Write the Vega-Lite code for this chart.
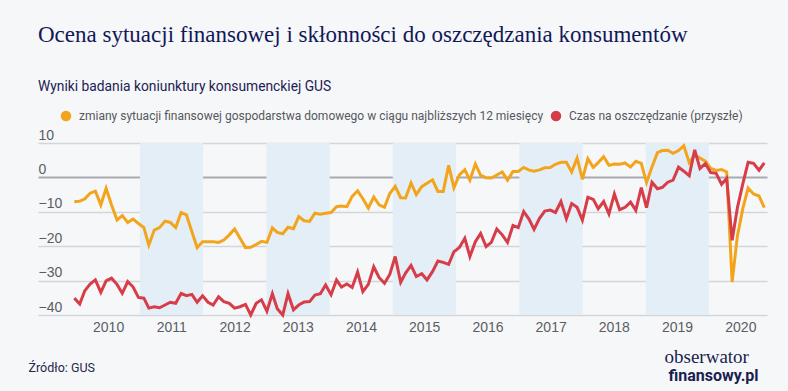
{
  "$schema": "https://vega.github.io/schema/vega-lite/v6.json",
  "width": 729,
  "height": 172,
  "autosize": {"type": "none"},
  "padding": {"left": 38, "top": 143, "right": 21, "bottom": 76},
  "background": "#f6f7f9",
  "title": {
    "text": "Ocena sytuacji finansowej i skłonności do oszczędzania konsumentów",
    "subtitle": "Wyniki badania koniunktury konsumenckiej GUS",
    "anchor": "start",
    "frame": "group",
    "font": "Liberation Serif",
    "fontSize": 23,
    "fontWeight": "normal",
    "color": "#121858",
    "subtitleFont": "Roboto",
    "subtitleFontSize": 13.8,
    "subtitleColor": "#1d2254",
    "subtitlePadding": 33,
    "offset": 16
  },
  "datasets": {
    "bands": [
      {"start": "2011-01-01", "end": "2012-01-01"},
      {"start": "2013-01-01", "end": "2014-01-01"},
      {"start": "2015-01-01", "end": "2016-01-01"},
      {"start": "2017-01-01", "end": "2018-01-01"},
      {"start": "2019-01-01", "end": "2020-01-01"}
    ],
    "series": [
      {"date": "2010-01-01", "f": -7.1, "c": -35.1},
      {"date": "2010-02-01", "f": -6.9, "c": -36.8},
      {"date": "2010-03-01", "f": -6.3, "c": -33.0},
      {"date": "2010-04-01", "f": -4.6, "c": -31.0},
      {"date": "2010-05-01", "f": -4.0, "c": -29.8},
      {"date": "2010-06-01", "f": -8.0, "c": -33.4},
      {"date": "2010-07-01", "f": -3.2, "c": -30.1},
      {"date": "2010-08-01", "f": -8.0, "c": -29.3},
      {"date": "2010-09-01", "f": -12.4, "c": -31.1},
      {"date": "2010-10-01", "f": -11.1, "c": -33.7},
      {"date": "2010-11-01", "f": -13.1, "c": -30.3},
      {"date": "2010-12-01", "f": -12.1, "c": -31.8},
      {"date": "2011-01-01", "f": -13.4, "c": -34.9},
      {"date": "2011-02-01", "f": -14.6, "c": -35.1},
      {"date": "2011-03-01", "f": -19.7, "c": -38.0},
      {"date": "2011-04-01", "f": -15.3, "c": -37.6},
      {"date": "2011-05-01", "f": -14.6, "c": -37.9},
      {"date": "2011-06-01", "f": -12.7, "c": -37.1},
      {"date": "2011-07-01", "f": -13.1, "c": -36.3},
      {"date": "2011-08-01", "f": -14.6, "c": -36.6},
      {"date": "2011-09-01", "f": -10.2, "c": -33.7},
      {"date": "2011-10-01", "f": -10.9, "c": -34.4},
      {"date": "2011-11-01", "f": -15.8, "c": -34.0},
      {"date": "2011-12-01", "f": -20.4, "c": -36.3},
      {"date": "2012-01-01", "f": -18.7, "c": -34.4},
      {"date": "2012-02-01", "f": -18.7, "c": -36.3},
      {"date": "2012-03-01", "f": -18.7, "c": -37.1},
      {"date": "2012-04-01", "f": -18.9, "c": -34.7},
      {"date": "2012-05-01", "f": -18.2, "c": -36.1},
      {"date": "2012-06-01", "f": -16.7, "c": -36.6},
      {"date": "2012-07-01", "f": -15.0, "c": -38.0},
      {"date": "2012-08-01", "f": -17.7, "c": -37.6},
      {"date": "2012-09-01", "f": -20.4, "c": -36.9},
      {"date": "2012-10-01", "f": -20.3, "c": -40.0},
      {"date": "2012-11-01", "f": -19.5, "c": -36.6},
      {"date": "2012-12-01", "f": -18.6, "c": -35.6},
      {"date": "2013-01-01", "f": -18.9, "c": -38.9},
      {"date": "2013-02-01", "f": -14.7, "c": -33.8},
      {"date": "2013-03-01", "f": -16.0, "c": -38.2},
      {"date": "2013-04-01", "f": -16.4, "c": -40.0},
      {"date": "2013-05-01", "f": -14.5, "c": -33.8},
      {"date": "2013-06-01", "f": -14.9, "c": -38.5},
      {"date": "2013-07-01", "f": -11.4, "c": -37.1},
      {"date": "2013-08-01", "f": -12.6, "c": -36.2},
      {"date": "2013-09-01", "f": -12.8, "c": -36.1},
      {"date": "2013-10-01", "f": -10.4, "c": -34.2},
      {"date": "2013-11-01", "f": -10.7, "c": -33.8},
      {"date": "2013-12-01", "f": -10.4, "c": -31.3},
      {"date": "2014-01-01", "f": -10.2, "c": -34.1},
      {"date": "2014-02-01", "f": -8.5, "c": -29.8},
      {"date": "2014-03-01", "f": -8.3, "c": -31.9},
      {"date": "2014-04-01", "f": -8.5, "c": -31.0},
      {"date": "2014-05-01", "f": -5.5, "c": -32.0},
      {"date": "2014-06-01", "f": -3.9, "c": -27.5},
      {"date": "2014-07-01", "f": -6.2, "c": -33.2},
      {"date": "2014-08-01", "f": -8.9, "c": -31.1},
      {"date": "2014-09-01", "f": -5.7, "c": -26.0},
      {"date": "2014-10-01", "f": -8.0, "c": -29.1},
      {"date": "2014-11-01", "f": -8.7, "c": -30.8},
      {"date": "2014-12-01", "f": -4.7, "c": -28.2},
      {"date": "2015-01-01", "f": -2.6, "c": -23.0},
      {"date": "2015-02-01", "f": -5.9, "c": -30.5},
      {"date": "2015-03-01", "f": -6.0, "c": -27.8},
      {"date": "2015-04-01", "f": -1.6, "c": -25.6},
      {"date": "2015-05-01", "f": -5.0, "c": -28.8},
      {"date": "2015-06-01", "f": -2.7, "c": -28.0},
      {"date": "2015-07-01", "f": -1.7, "c": -29.8},
      {"date": "2015-08-01", "f": -0.7, "c": -27.4},
      {"date": "2015-09-01", "f": -4.1, "c": -24.3},
      {"date": "2015-10-01", "f": -4.1, "c": -24.7},
      {"date": "2015-11-01", "f": 3.5, "c": -25.3},
      {"date": "2015-12-01", "f": -3.0, "c": -21.6},
      {"date": "2016-01-01", "f": 0.7, "c": -20.4},
      {"date": "2016-02-01", "f": 2.2, "c": -17.7},
      {"date": "2016-03-01", "f": -0.8, "c": -23.0},
      {"date": "2016-04-01", "f": 3.9, "c": -18.7},
      {"date": "2016-05-01", "f": 0.6, "c": -16.3},
      {"date": "2016-06-01", "f": -0.1, "c": -20.1},
      {"date": "2016-07-01", "f": -0.2, "c": -18.9},
      {"date": "2016-08-01", "f": 0.7, "c": -15.0},
      {"date": "2016-09-01", "f": 1.6, "c": -16.7},
      {"date": "2016-10-01", "f": -0.8, "c": -18.9},
      {"date": "2016-11-01", "f": 1.7, "c": -14.0},
      {"date": "2016-12-01", "f": 1.7, "c": -14.6},
      {"date": "2017-01-01", "f": 2.9, "c": -9.9},
      {"date": "2017-02-01", "f": 2.1, "c": -12.2},
      {"date": "2017-03-01", "f": 1.8, "c": -15.1},
      {"date": "2017-04-01", "f": 2.2, "c": -11.9},
      {"date": "2017-05-01", "f": 2.8, "c": -9.8},
      {"date": "2017-06-01", "f": 2.9, "c": -9.5},
      {"date": "2017-07-01", "f": 3.8, "c": -10.2},
      {"date": "2017-08-01", "f": 4.4, "c": -7.0},
      {"date": "2017-09-01", "f": 4.4, "c": -12.0},
      {"date": "2017-10-01", "f": 1.6, "c": -7.6},
      {"date": "2017-11-01", "f": 5.6, "c": -8.7},
      {"date": "2017-12-01", "f": -0.6, "c": -12.4},
      {"date": "2018-01-01", "f": 5.4, "c": -5.8},
      {"date": "2018-02-01", "f": 2.9, "c": -6.4},
      {"date": "2018-03-01", "f": 4.3, "c": -9.1},
      {"date": "2018-04-01", "f": 6.0, "c": -7.0},
      {"date": "2018-05-01", "f": 3.5, "c": -10.6},
      {"date": "2018-06-01", "f": 3.9, "c": -4.8},
      {"date": "2018-07-01", "f": 3.8, "c": -9.4},
      {"date": "2018-08-01", "f": 4.2, "c": -8.7},
      {"date": "2018-09-01", "f": 3.0, "c": -7.2},
      {"date": "2018-10-01", "f": 4.7, "c": -9.6},
      {"date": "2018-11-01", "f": 4.1, "c": -3.0},
      {"date": "2018-12-01", "f": -1.5, "c": -8.8},
      {"date": "2019-01-01", "f": 3.0, "c": -1.4},
      {"date": "2019-02-01", "f": 7.2, "c": -3.3},
      {"date": "2019-03-01", "f": 7.8, "c": -2.9},
      {"date": "2019-04-01", "f": 7.9, "c": -1.4},
      {"date": "2019-05-01", "f": 7.0, "c": -0.8},
      {"date": "2019-06-01", "f": 7.8, "c": 3.0},
      {"date": "2019-07-01", "f": 9.2, "c": 1.8},
      {"date": "2019-08-01", "f": 4.3, "c": 0.5},
      {"date": "2019-09-01", "f": 6.5, "c": 8.0},
      {"date": "2019-10-01", "f": 5.6, "c": 2.6},
      {"date": "2019-11-01", "f": 4.7, "c": 4.0},
      {"date": "2019-12-01", "f": 2.6, "c": 1.4},
      {"date": "2020-01-01", "f": 2.0, "c": 1.2},
      {"date": "2020-02-01", "f": 2.3, "c": -2.0},
      {"date": "2020-03-01", "f": 1.6, "c": -0.3},
      {"date": "2020-04-01", "f": -30.4, "c": -18.3},
      {"date": "2020-05-01", "f": -17.0, "c": -8.8},
      {"date": "2020-06-01", "f": -9.0, "c": -1.8},
      {"date": "2020-07-01", "f": -3.1, "c": 4.4},
      {"date": "2020-08-01", "f": -4.8, "c": 4.1},
      {"date": "2020-09-01", "f": -5.4, "c": 2.1},
      {"date": "2020-10-01", "f": -8.8, "c": 4.2}
    ]
  },
  "layer": [
    {
      "data": {"name": "bands"},
      "mark": {"type": "rect", "color": "#e4eef7"},
      "encoding": {
        "x": {
          "field": "start",
          "type": "temporal",
          "scale": {
            "type": "utc",
            "domain": [
              {"year": 2009, "month": 5, "date": 22, "utc": true},
              {"year": 2020, "month": 12, "date": 2, "utc": true}
            ]
          },
          "axis": {
            "orient": "bottom",
            "values": [
              {"year": 2010, "month": 7, "date": 1, "utc": true},
              {"year": 2011, "month": 7, "date": 1, "utc": true},
              {"year": 2012, "month": 7, "date": 1, "utc": true},
              {"year": 2013, "month": 7, "date": 1, "utc": true},
              {"year": 2014, "month": 7, "date": 1, "utc": true},
              {"year": 2015, "month": 7, "date": 1, "utc": true},
              {"year": 2016, "month": 7, "date": 1, "utc": true},
              {"year": 2017, "month": 7, "date": 1, "utc": true},
              {"year": 2018, "month": 7, "date": 1, "utc": true},
              {"year": 2019, "month": 7, "date": 1, "utc": true},
              {"year": 2020, "month": 7, "date": 1, "utc": true}
            ],
            "format": "%Y",
            "grid": false,
            "domain": false,
            "ticks": false,
            "tickSize": 0,
            "labelPadding": 5,
            "labelFlush": false,
            "labelOverlap": false,
            "labelBound": false,
            "labelFont": "Liberation Sans",
            "labelFontSize": 14,
            "labelColor": "#5b5d62",
            "title": "Źródło: GUS",
            "titleX": -10,
            "titleY": 56,
            "titleAlign": "left",
            "titleAnchor": "start",
            "titleBaseline": "alphabetic",
            "titleFont": "Roboto",
            "titleFontSize": 12.5,
            "titleFontWeight": "normal",
            "titleColor": "#23284a"
          }
        },
        "x2": {"field": "end"}
      }
    },
    {
      "data": {"name": "series"},
      "transform": [{"fold": ["f", "c"], "as": ["series", "value"]}],
      "mark": {"type": "line", "strokeWidth": 3},
      "encoding": {
        "x": {
          "field": "date",
          "type": "temporal",
          "scale": {
            "type": "utc",
            "domain": [
              {"year": 2009, "month": 6, "date": 8, "hours": 12, "utc": true},
              {"year": 2020, "month": 10, "date": 16, "hours": 10, "utc": true}
            ]
          },
          "axis": {
            "orient": "top",
            "labels": false,
            "ticks": false,
            "domain": false,
            "grid": false,
            "title": "finansowy.pl",
            "titleX": 630,
            "titleY": 237,
            "titleAlign": "left",
            "titleAnchor": "start",
            "titleBaseline": "alphabetic",
            "titleAngle": 0,
            "titleFont": "Roboto",
            "titleFontSize": 16,
            "titleFontWeight": "bold",
            "titleColor": "#1a1f4f"
          }
        },
        "y": {
          "field": "value",
          "type": "quantitative",
          "scale": {"domain": [-40, 10], "nice": false, "zero": false},
          "axis": {
            "orient": "left",
            "values": [-40, -30, -20, -10, 0, 10],
            "grid": true,
            "gridColor": {"condition": {"test": "datum.value === 0", "value": "#a7abb1"}, "value": "#d2d5da"},
            "gridWidth": {"condition": {"test": "datum.value === 0", "value": 2}, "value": 1.5},
            "domain": false,
            "ticks": false,
            "tickSize": 0,
            "labelAlign": "left",
            "labelBaseline": "bottom",
            "labelPadding": 0,
            "labelOffset": -1,
            "labelFont": "Liberation Sans",
            "labelFontSize": 14,
            "labelColor": "#5b5d62",
            "title": "obserwator",
            "titleX": 626,
            "titleY": 219,
            "titleAngle": 0,
            "titleAlign": "left",
            "titleAnchor": "start",
            "titleBaseline": "alphabetic",
            "titleFont": "Liberation Serif",
            "titleFontSize": 19,
            "titleFontWeight": "normal",
            "titleColor": "#1a1f4f"
          }
        },
        "color": {
          "field": "series",
          "type": "nominal",
          "scale": {"domain": ["f", "c"], "range": ["#f2a51c", "#d73c49"]},
          "legend": {
            "orient": "none",
            "legendX": 22,
            "legendY": -33,
            "direction": "horizontal",
            "title": null,
            "symbolType": "circle",
            "symbolSize": 110,
            "labelExpr": "datum.value === 'f' ? 'zmiany sytuacji finansowej gospodarstwa domowego w ciągu najbliższych 12 miesięcy' : 'Czas na oszczędzanie (przyszłe)'",
            "labelFont": "Roboto",
            "labelFontSize": 12,
            "labelColor": "#55585e",
            "labelLimit": 700,
            "labelOffset": 7,
            "columnPadding": 6,
            "padding": 0,
            "encode": {
              "symbols": {
                "update": {
                  "fill": {"scale": "color", "field": "value"},
                  "stroke": {"value": "transparent"},
                  "strokeWidth": {"value": 0}
                }
              }
            }
          }
        }
      }
    }
  ],
  "resolve": {"scale": {"x": "independent"}, "axis": {"x": "independent"}},
  "config": {
    "view": {"stroke": null},
    "font": "Liberation Sans"
  }
}
